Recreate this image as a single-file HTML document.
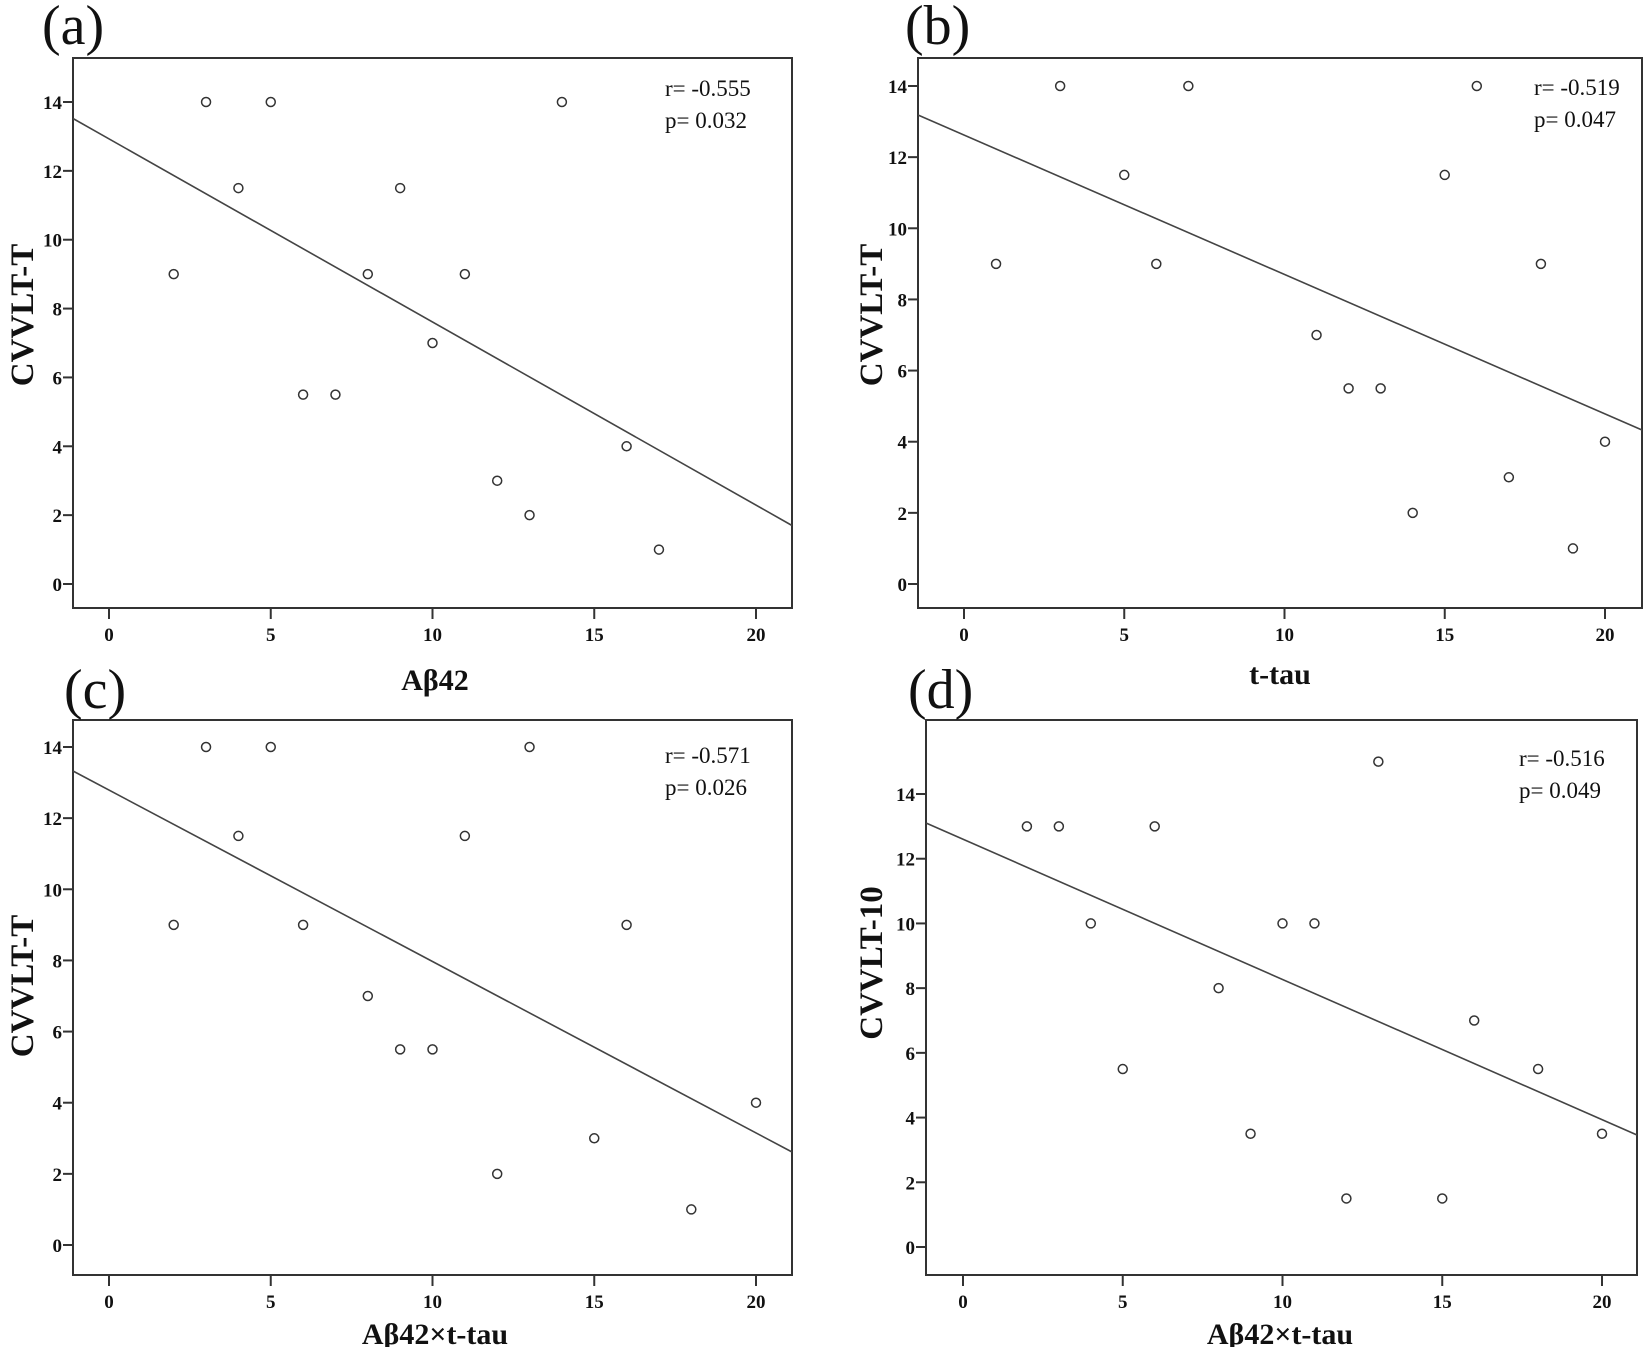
<!DOCTYPE html>
<html><head><meta charset="utf-8"><style>
html,body{margin:0;padding:0;background:#fff}
svg{display:block}
text{font-family:"Liberation Serif",serif;fill:#111}
</style></head><body>
<svg id="s" width="1645" height="1347" viewBox="0 0 1645 1347" xmlns="http://www.w3.org/2000/svg"></svg>
<script>
const S=document.getElementById('s');let h='';
const panels=[
 {L:73,R:792,T:58,B:608,x0:109,x20:756,y0:584,y14:102,yt:[0,2,4,6,8,10,12,14],line:[73,118.5,792,525.5],
  pts:[[2,9],[3,14],[4,11.5],[5,14],[6,5.5],[7,5.5],[8,9],[9,11.5],[10,7],[11,9],[12,3],[13,2],[14,14],[16,4],[17,1]],
  r:'r= -0.555',p:'p= 0.032',rx:665,ry:96,lab:'(a)',lx:42,ly:44,xl:'Aβ42',xlx:435,xly:690,yl:'CVVLT-T',ylx:33,ylc:315},
 {L:918,R:1642,T:58,B:608,x0:964,x20:1605,y0:584,y14:86,yt:[0,2,4,6,8,10,12,14],line:[918,115,1642,430],
  pts:[[1,9],[3,14],[5,11.5],[6,9],[7,14],[11,7],[12,5.5],[13,5.5],[14,2],[15,11.5],[16,14],[17,3],[18,9],[19,1],[20,4]],
  r:'r= -0.519',p:'p= 0.047',rx:1534,ry:95,lab:'(b)',lx:905,ly:44,xl:'t-tau',xlx:1280,xly:684,yl:'CVVLT-T',ylx:882,ylc:315},
 {L:73,R:792,T:720,B:1275,x0:109,x20:756,y0:1245,y14:747,yt:[0,2,4,6,8,10,12,14],line:[73,771,792,1152],
  pts:[[2,9],[3,14],[4,11.5],[5,14],[6,9],[8,7],[9,5.5],[10,5.5],[11,11.5],[12,2],[13,14],[15,3],[16,9],[18,1],[20,4]],
  r:'r= -0.571',p:'p= 0.026',rx:665,ry:763,lab:'(c)',lx:64,ly:708,xl:'Aβ42×t-tau',xlx:435,xly:1344,yl:'CVVLT-T',ylx:33,ylc:986},
 {L:926,R:1637,T:720,B:1275,x0:963,x20:1602,y0:1247,y14:794,yt:[0,2,4,6,8,10,12,14],line:[926,823,1637,1135],
  pts:[[2,13],[3,13],[4,10],[5,5.5],[6,13],[8,8],[9,3.5],[10,10],[11,10],[12,1.5],[13,15],[15,1.5],[16,7],[18,5.5],[20,3.5]],
  r:'r= -0.516',p:'p= 0.049',rx:1519,ry:766,lab:'(d)',lx:908,ly:708,xl:'Aβ42×t-tau',xlx:1280,xly:1344,yl:'CVVLT-10',ylx:882,ylc:963}
];
for(const P of panels){
 const X=v=>P.x0+(P.x20-P.x0)*v/20, Y=v=>P.y0+(P.y14-P.y0)*v/14;
 h+=`<rect x="${P.L}" y="${P.T}" width="${P.R-P.L}" height="${P.B-P.T}" fill="none" stroke="#333" stroke-width="2"/>`;
 for(const v of [0,5,10,15,20]){const x=X(v);h+=`<line x1="${x}" y1="${P.B}" x2="${x}" y2="${P.B+11}" stroke="#333" stroke-width="2"/><text x="${x}" y="${P.B+33}" font-size="19" font-weight="bold" text-anchor="middle">${v}</text>`;}
 for(const v of P.yt){const y=Y(v);h+=`<line x1="${P.L-10}" y1="${y}" x2="${P.L}" y2="${y}" stroke="#333" stroke-width="2"/><text x="${P.L-11}" y="${y+7}" font-size="19" font-weight="bold" text-anchor="end">${v}</text>`;}
 const l=P.line;h+=`<line x1="${l[0]}" y1="${l[1]}" x2="${l[2]}" y2="${l[3]}" stroke="#444" stroke-width="1.6"/>`;
 for(const [a,b] of P.pts)h+=`<circle cx="${X(a)}" cy="${Y(b)}" r="4.5" fill="none" stroke="#333" stroke-width="1.5"/>`;
 h+=`<text x="${P.rx}" y="${P.ry}" font-size="23">${P.r}</text><text x="${P.rx}" y="${P.ry+32}" font-size="23">${P.p}</text>`;
 h+=`<text x="${P.lx}" y="${P.ly}" font-size="56">${P.lab}</text>`;
 h+=`<text x="${P.xlx}" y="${P.xly}" font-size="30" font-weight="bold" text-anchor="middle">${P.xl}</text>`;
 h+=`<text x="${P.ylx}" y="${P.ylc}" font-size="33" font-weight="bold" text-anchor="middle" transform="rotate(-90 ${P.ylx} ${P.ylc})">${P.yl}</text>`;
}
S.innerHTML=h;
</script>
</body></html>
